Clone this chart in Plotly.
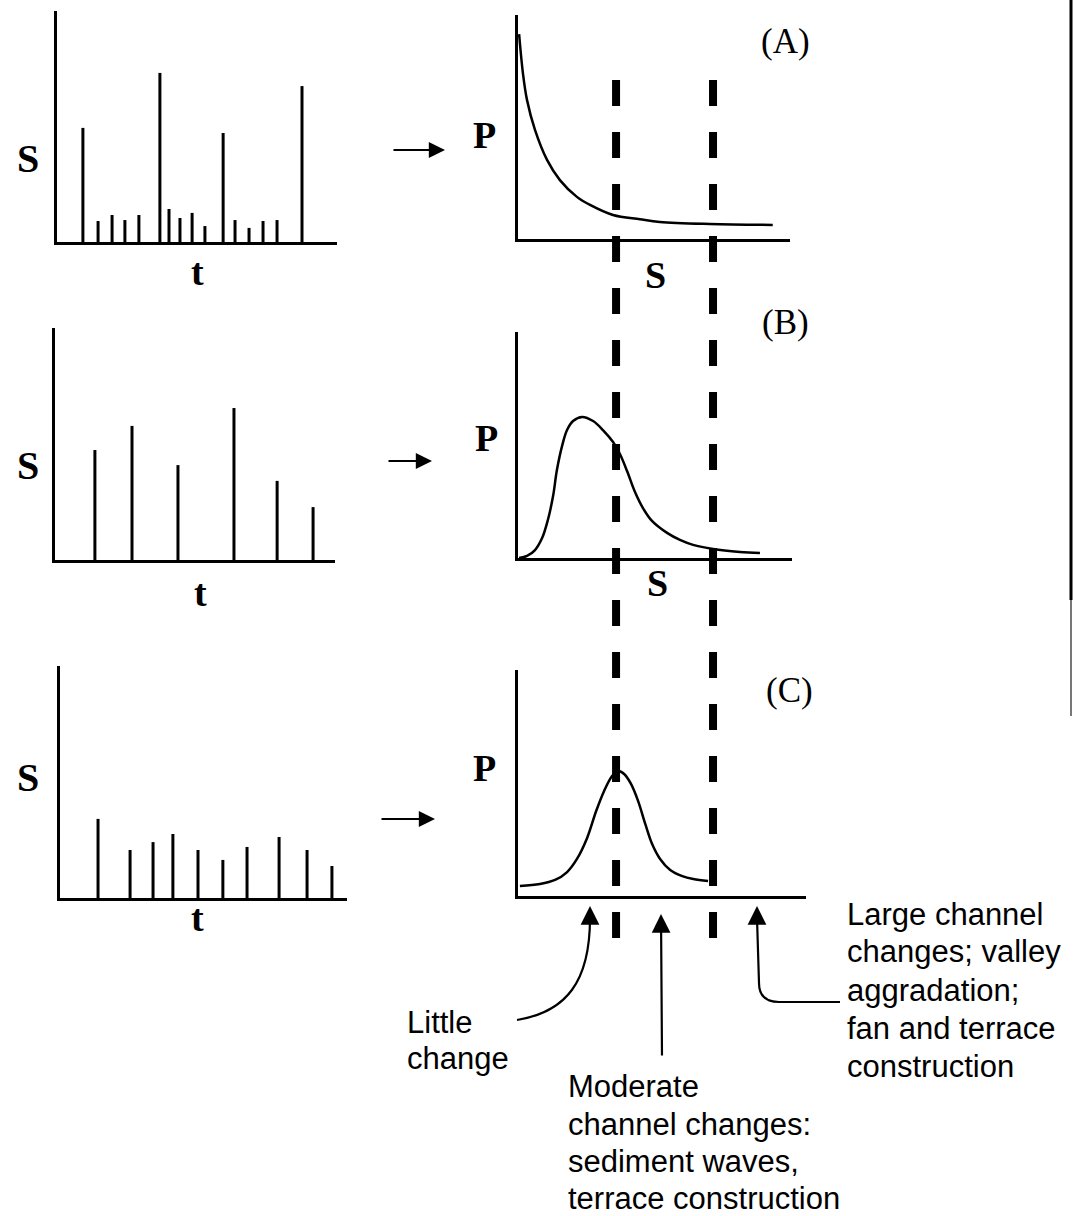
import plotly.graph_objects as go

W, H = 1074, 1216

# Sediment supply pulses S(t) for the three regimes
t_a = [1.11, 1.76, 2.36, 2.91, 3.51, 4.41, 4.80, 5.27, 5.79, 6.34, 7.12, 7.63, 8.23, 8.83, 9.43, 10.5]
s_a = [4.94, 0.91, 1.17, 0.95, 1.17, 7.32, 1.43, 1.04, 1.26, 0.69, 4.72, 0.95, 0.61, 0.91, 0.95, 6.75]
t_b = [1.71, 3.30, 5.27, 7.67, 9.52, 11.06]
s_b = [4.74, 5.78, 4.09, 6.55, 3.41, 2.28]
t_c = [1.59, 2.93, 3.89, 4.72, 5.77, 6.81, 7.82, 9.16, 10.33, 11.37]
s_c = [3.41, 2.07, 2.41, 2.76, 2.07, 1.64, 2.20, 2.63, 2.07, 1.38]

# Probability P of a pulse of size S
S_A = [0.04, 0.18, 0.33, 0.62, 1.06, 1.53, 2.15, 2.63, 3.47, 4.45, 5.18, 7.0, 9.3]
P_A = [9.15, 7.4, 6.2, 4.87, 3.53, 2.63, 1.88, 1.52, 1.07, 0.88, 0.76, 0.67, 0.63]
S_B = [0.04, 0.33, 0.62, 0.88, 1.09, 1.28, 1.42, 1.61, 1.79, 2.01, 2.34, 2.74, 3.10,
       3.47, 3.72, 3.98, 4.27, 4.56, 4.89, 5.44, 5.91, 6.39, 7.12, 8.10, 8.83]
P_B = [0.0, 0.09, 0.35, 0.88, 1.68, 2.74, 3.89, 4.96, 5.66, 6.06, 6.24, 6.06, 5.66,
       5.13, 4.60, 3.85, 2.92, 2.21, 1.64, 1.11, 0.80, 0.58, 0.40, 0.27, 0.22]
S_C = [0.07, 0.80, 1.35, 1.79, 2.15, 2.52, 2.85, 3.14, 3.43, 3.65, 3.87, 4.12, 4.38,
       4.64, 4.89, 5.18, 5.55, 5.99, 6.39, 6.93]
P_C = [0.44, 0.53, 0.71, 1.06, 1.64, 2.57, 3.76, 4.65, 5.31, 5.53, 5.40, 4.96, 4.20,
       3.19, 2.30, 1.64, 1.15, 0.88, 0.75, 0.66]

# Pulse-size thresholds separating the channel-response classes
thresholds = [3.58, 7.12]

panel_tags = ["(A)", "(B)", "(C)"]
little_lines = ["Little", "change"]
moderate_lines = ["Moderate", "channel changes:", "sediment waves,", "terrace construction"]
large_lines = ["Large channel", "changes; valley", "aggradation;", "fan and terrace", "construction"]

SERIF = "Liberation Serif, Times New Roman, serif"
SANS = "Liberation Sans, Arial, Helvetica, sans-serif"


def X(px):
    return px / W


def Y(py):
    return 1 - py / H


def dom_x(left, right):
    return [left / W, right / W]


def dom_y(top, bottom):
    return [1 - bottom / H, 1 - top / H]


def stems(t, s):
    xs, ys = [], []
    for ti, si in zip(t, s):
        xs += [ti, ti, None]
        ys += [0, si, None]
    return xs, ys


fig = go.Figure()

# stem plots
for (t, s), ax in zip([(t_a, s_a), (t_b, s_b), (t_c, s_c)], ["", "2", "3"]):
    xs, ys = stems(t, s)
    fig.add_trace(go.Scatter(x=xs, y=ys, mode="lines",
                             line=dict(color="black", width=3),
                             xaxis="x" + ax, yaxis="y" + ax,
                             hoverinfo="skip", showlegend=False))

# probability curves
for (sv, pv), ax in zip([(S_A, P_A), (S_B, P_B), (S_C, P_C)], ["4", "5", "6"]):
    fig.add_trace(go.Scatter(x=sv, y=pv, mode="lines",
                             line=dict(color="black", width=2.5, shape="spline", smoothing=1.0),
                             xaxis="x" + ax, yaxis="y" + ax,
                             hoverinfo="skip", showlegend=False))

axis_style = dict(showline=True, linewidth=3, linecolor="black", showgrid=False,
                  zeroline=False, showticklabels=False, ticks="", fixedrange=True)

left_boxes = [((57, 337), (11, 242)), ((55, 335), (328, 560)), ((60, 347), (666, 898))]
right_boxes = [((518, 790), (15, 239)), ((518, 792), (332, 558)), ((518, 806), (670, 896))]
right_ranges = [9.93, 10.0, 10.5]

layout_axes = {}
for i, ((xl, xr), (yt, yb)) in enumerate(left_boxes):
    sfx = "" if i == 0 else str(i + 1)
    layout_axes["xaxis" + sfx] = dict(domain=dom_x(xl, xr), range=[0, 12],
                                      anchor="y" + sfx, **axis_style)
    layout_axes["yaxis" + sfx] = dict(domain=dom_y(yt, yb), range=[0, 10],
                                      anchor="x" + sfx, **axis_style)
for i, ((xl, xr), (yt, yb)) in enumerate(right_boxes):
    sfx = str(i + 4)
    layout_axes["xaxis" + sfx] = dict(domain=dom_x(xl, xr), range=[0, right_ranges[i]],
                                      anchor="y" + sfx, **axis_style)
    layout_axes["yaxis" + sfx] = dict(domain=dom_y(yt, yb), range=[0, 10],
                                      anchor="x" + sfx, **axis_style)

shapes = []
# dashed class boundaries crossing the three P(S) panels
for thr in thresholds:
    shapes.append(dict(type="line", xref="x4", yref="paper",
                       x0=thr, x1=thr, y0=Y(80), y1=Y(938),
                       line=dict(color="black", width=8, dash="26px,26px")))

# curved leader lines for the response labels
shapes.append(dict(type="path", xref="paper", yref="paper",
                   path=f"M {X(517)},{Y(1020)} C {X(566)},{Y(1012)} {X(590)},{Y(982)} {X(590)},{Y(918)}",
                   line=dict(color="black", width=2.2)))
shapes.append(dict(type="path", xref="paper", yref="paper",
                   path=(f"M {X(840)},{Y(1002)} L {X(779)},{Y(1002)} "
                         f"C {X(765)},{Y(1002)} {X(759)},{Y(995)} {X(759)},{Y(983)} "
                         f"L {X(757)},{Y(918)}"),
                   line=dict(color="black", width=2.2)))

# page edge on the right
shapes.append(dict(type="line", xref="paper", yref="paper",
                   x0=X(1071), x1=X(1071), y0=Y(0), y1=Y(600),
                   line=dict(color="black", width=3)))
shapes.append(dict(type="line", xref="paper", yref="paper",
                   x0=X(1071), x1=X(1071), y0=Y(600), y1=Y(716),
                   line=dict(color="#777777", width=2)))

ann = []


def label(text, x, y, size, family, xanchor="center", yanchor="middle", align="center"):
    ann.append(dict(text=text, x=X(x), y=Y(y), xref="paper", yref="paper",
                    showarrow=False, xanchor=xanchor, yanchor=yanchor, align=align,
                    font=dict(family=family, size=size, color="black")))


def arrow(xt, yt, xs, ys, size=1.6, width=2):
    ann.append(dict(text="", x=X(xt), y=Y(yt), xref="paper", yref="paper",
                    ax=xs - xt, ay=ys - yt, axref="pixel", ayref="pixel",
                    showarrow=True, arrowhead=2, arrowsize=size, arrowwidth=width,
                    arrowcolor="black", standoff=0))


# axis letters
for (x, y) in [(28, 158), (28, 465), (28, 777)]:
    label("<b>S</b>", x, y, 40, SERIF)
for (x, y) in [(197, 272), (200, 593), (197, 918)]:
    label("<b>t</b>", x, y, 38, SERIF)
for (x, y) in [(484, 135), (486, 438), (484, 768)]:
    label("<b>P</b>", x, y, 38, SERIF)
for (x, y) in [(655, 275), (657, 583)]:
    label("<b>S</b>", x, y, 38, SERIF)
for tag, (x, y) in zip(panel_tags, [(785, 42), (785, 322), (789, 690)]):
    label(tag, x, y, 35, SERIF)

# transformation arrows between the columns
arrow(445, 150, 392, 150, size=1.8, width=1.8)
arrow(432, 461, 387, 461, size=1.8, width=1.8)
arrow(435, 819, 380, 819, size=1.8, width=1.8)

# response-class pointers
arrow(590, 906, 590, 924, size=1.7, width=2.2)
arrow(661, 914, 662, 1057, size=1.7, width=2.2)
arrow(757, 906, 757, 924, size=1.7, width=2.2)

# response-class text, one line at a time
for line, y in zip(little_lines, [1022, 1058]):
    label(line, 405, y, 31, SANS, xanchor="left")
for line, y in zip(moderate_lines, [1086, 1124, 1161, 1198]):
    label(line, 566, y, 31, SANS, xanchor="left")
for line, y in zip(large_lines, [914, 951, 990, 1028, 1066]):
    label(line, 845, y, 31, SANS, xanchor="left")

fig.update_layout(
    width=W, height=H, autosize=False,
    margin=dict(l=0, r=0, t=0, b=0, pad=0),
    paper_bgcolor="white", plot_bgcolor="white",
    template="none", showlegend=False,
    shapes=shapes, annotations=ann,
    **layout_axes,
)

fig.write_html("out.html", config={"displayModeBar": False})
